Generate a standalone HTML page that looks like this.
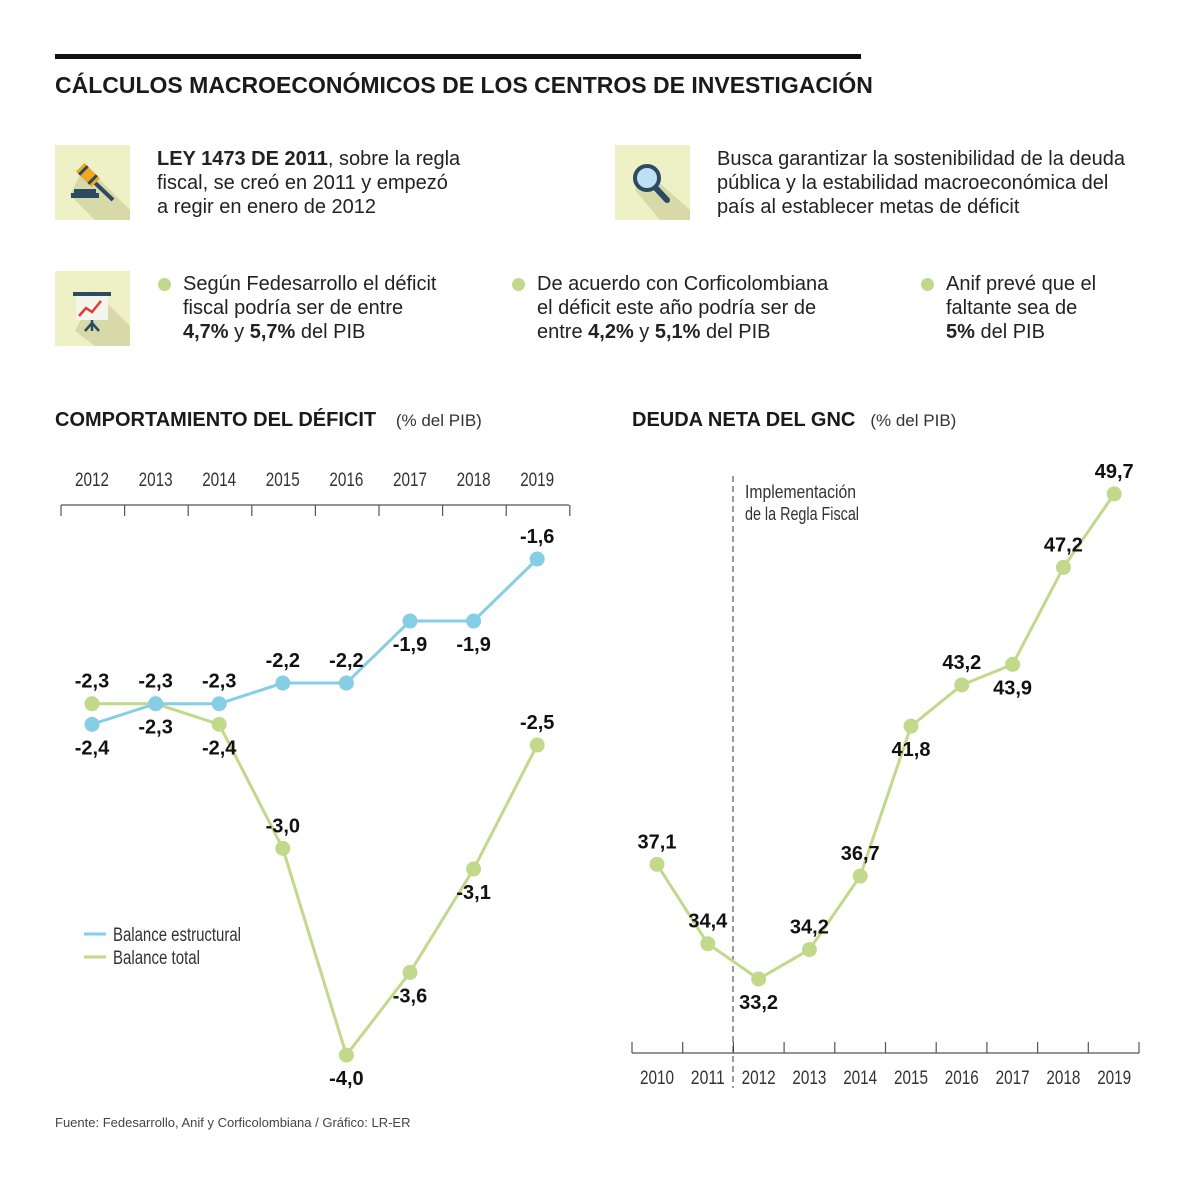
<!DOCTYPE html>
<html><head><meta charset="utf-8"><style>
body{margin:0;width:1200px;height:1187px;background:#fff;font-family:"Liberation Sans",sans-serif;color:#1a1a1a;position:relative;overflow:hidden}
.abs{position:absolute}
.txt{font-family:"Liberation Sans",sans-serif;font-size:20px;line-height:24px;color:#222}
.icon{position:absolute;width:75px;height:75px;background:#eef0c6;overflow:hidden}
.dot{display:inline-block;width:13px;height:13px;border-radius:50%;background:#c2d88a;position:absolute}
h2{margin:0;font-family:"Liberation Sans",sans-serif;font-weight:bold;font-size:20px;position:absolute}
.sub{font-weight:normal;font-size:17px;color:#333}
</style></head><body>
<div class="abs" style="left:55px;top:54px;width:806px;height:5px;background:#111"></div>
<h2 style="left:55px;top:72px;font-size:23px">CÁLCULOS MACROECONÓMICOS DE LOS CENTROS DE INVESTIGACIÓN</h2>

<div class="icon" style="left:55px;top:145px">
<svg width="75" height="75"><polygon points="30,20 75,65 75,75 40,75 15,50" fill="#d8d9a8"/>
<rect x="16" y="48" width="28" height="5" fill="#2d4a63"/><rect x="19" y="44" width="22" height="4" fill="#2d4a63"/>
<line x1="36" y1="34" x2="58" y2="55" stroke="#2d4a63" stroke-width="4"/>
<g transform="rotate(45 33 30)"><rect x="22" y="24" width="22" height="12" fill="#f0a81e"/><rect x="25" y="24" width="3" height="12" fill="#2d4a63"/><rect x="38" y="24" width="3" height="12" fill="#2d4a63"/></g></svg></div>
<div class="abs txt" style="left:157px;top:147px"><b>LEY 1473 DE 2011</b>, sobre la regla<br>fiscal, se creó en 2011 y empezó<br>a regir en enero de 2012</div>

<div class="icon" style="left:615px;top:145px">
<svg width="75" height="75"><polygon points="30,25 75,65 75,75 45,75 20,45" fill="#d8d9a8"/>
<line x1="38" y1="40" x2="52" y2="55" stroke="#2d4a63" stroke-width="6" stroke-linecap="round"/>
<circle cx="32" cy="33" r="12" fill="#bfe0f2" stroke="#2d4a63" stroke-width="4"/></svg></div>
<div class="abs txt" style="left:717px;top:147px">Busca garantizar la sostenibilidad de la deuda<br>pública y la estabilidad macroeconómica del<br>país al establecer metas de déficit</div>

<div class="icon" style="left:55px;top:271px">
<svg width="75" height="75"><polygon points="40,20 75,55 75,75 40,75 20,60" fill="#d8d9a8"/>
<rect x="18" y="21" width="38" height="4" fill="#2d4a63"/><rect x="21" y="25" width="32" height="24" fill="#f5f5ee"/>
<polyline points="24,45 31,37 37,41 46,30" fill="none" stroke="#e2383a" stroke-width="2.5"/>
<line x1="37" y1="49" x2="37" y2="60" stroke="#2d4a63" stroke-width="2.5"/><line x1="37" y1="52" x2="30" y2="60" stroke="#2d4a63" stroke-width="2.5"/><line x1="37" y1="52" x2="44" y2="60" stroke="#2d4a63" stroke-width="2.5"/></svg></div>
<span class="dot" style="left:158px;top:278px"></span>
<div class="abs txt" style="left:183px;top:272px">Según Fedesarrollo el déficit<br>fiscal podría ser de entre<br><b>4,7%</b> y <b>5,7%</b> del PIB</div>
<span class="dot" style="left:512px;top:278px"></span>
<div class="abs txt" style="left:537px;top:272px">De acuerdo con Corficolombiana<br>el déficit este año podría ser de<br>entre <b>4,2%</b> y <b>5,1%</b> del PIB</div>
<span class="dot" style="left:921px;top:278px"></span>
<div class="abs txt" style="left:946px;top:272px">Anif prevé que el<br>faltante sea de<br><b>5%</b> del PIB</div>

<h2 style="left:55px;top:409px">COMPORTAMIENTO DEL DÉFICIT <span class="sub">&nbsp;&nbsp;&nbsp;(% del PIB)</span></h2>
<h2 style="left:632px;top:409px">DEUDA NETA DEL GNC <span class="sub">&nbsp;&nbsp;(% del PIB)</span></h2>

<svg class="abs" style="left:0;top:0" width="1200" height="1187" id="charts" font-family="Liberation Sans, sans-serif"></svg>
<div class="abs" style="left:55px;top:1115px;font-size:13px;color:#444">Fuente: Fedesarrollo, Anif y Corficolombiana / Gráfico: LR-ER</div>

<script>
const defYears=["2012","2013","2014","2015","2016","2017","2018","2019"];
const structural=[-2.4,-2.3,-2.3,-2.2,-2.2,-1.9,-1.9,-1.6];
const total=[-2.3,-2.3,-2.4,-3.0,-4.0,-3.6,-3.1,-2.5];
const structLabelPos=["below","below","above","above","above","below","below","above"];
const totalLabelPos=["above","above","below","above","below","below","below","above"];
const debtYears=["2010","2011","2012","2013","2014","2015","2016","2017","2018","2019"];
const debt=[37.1,34.4,33.2,34.2,36.7,41.8,43.2,43.9,47.2,49.7];
const debtLabelPos=["above","above","below","above","above","below","above","below","above","above"];

const NS="http://www.w3.org/2000/svg";
const svg=document.getElementById('charts');
function mk(tag,attrs,parent){const e=document.createElementNS(NS,tag);for(const k in attrs)e.setAttribute(k,attrs[k]);(parent||svg).appendChild(e);return e;}
const fmt=v=>v.toFixed(1).replace('.',',');
const GREEN="#c2d88a",BLUE="#86cde6";

const lx=i=>92+i*63.6;
const ly=v=>559+(-1.6-v)*206.7;
let ax=mk('line',{x1:61,y1:505,x2:569,y2:505,stroke:'#555','stroke-width':1.2});


for(let i=0;i<=defYears.length;i++){
  const t=mk('line',{x1:61+i*63.6,y1:505,x2:61+i*63.6,y2:516,stroke:'#555','stroke-width':1.2});
  
  
}
defYears.forEach((y,i)=>{
  const t=mk('text',{x:lx(i),y:486,'text-anchor':'middle','font-size':19,fill:'#333',textLength:34,lengthAdjust:'spacingAndGlyphs'});t.textContent=y;
  
  
});
function series(vals,xf,yf,color,posArr,name){
  const pl=mk('polyline',{points:vals.map((v,i)=>xf(i)+','+yf(v)).join(' '),fill:'none',stroke:color,'stroke-width':3});
  
  
  vals.forEach((v,i)=>{
    const c=mk('circle',{cx:xf(i),cy:yf(v),r:7.5,fill:color});
    
    
  });
}
function labels(vals,xf,yf,posArr,name){
  vals.forEach((v,i)=>{
    const yy=posArr[i]==='above'?yf(v)-16:yf(v)+30;
    const t=mk('text',{x:xf(i),y:yy,'text-anchor':'middle','font-size':20,'font-weight':'bold',fill:'#111'});
    t.textContent=fmt(v);
    
    
  });
}
series(total,lx,ly,GREEN,totalLabelPos,'total-balance');
series(structural,lx,ly,BLUE,structLabelPos,'structural-balance');
labels(total,lx,ly,totalLabelPos,'total-balance');
labels(structural,lx,ly,structLabelPos,'structural-balance');
[[BLUE,'Balance estructural',934,128],[GREEN,'Balance total',957,87]].forEach(([c,t,y,w])=>{
  const l=mk('line',{x1:84,y1:y,x2:106,y2:y,stroke:c,'stroke-width':3});
  
  
  const tx=mk('text',{x:113,y:y+7,'font-size':19,fill:'#333',textLength:w,lengthAdjust:'spacingAndGlyphs'});tx.textContent=t;
  
  
});

const rx=i=>657+i*50.8;
const ry=v=>979-(v-33.2)*29.4;
const ax2=mk('line',{x1:632,y1:1053,x2:1139,y2:1053,stroke:'#555','stroke-width':1.2});


for(let i=0;i<=debtYears.length;i++){
  const t=mk('line',{x1:632+i*50.7,y1:1042,x2:632+i*50.7,y2:1053,stroke:'#555','stroke-width':1.2});
  
  
}
debtYears.forEach((y,i)=>{
  const t=mk('text',{x:rx(i),y:1084,'text-anchor':'middle','font-size':19,fill:'#333',textLength:34,lengthAdjust:'spacingAndGlyphs'});t.textContent=y;
  
  
});
const dl=mk('line',{x1:733,y1:476,x2:733,y2:1088,stroke:'#333','stroke-width':1,'stroke-dasharray':'6,4'});


const an1=mk('text',{x:745,y:498,'font-size':18,fill:'#333',textLength:111,lengthAdjust:'spacingAndGlyphs'});
an1.textContent='Implementación';


const an2=mk('text',{x:745,y:520,'font-size':18,fill:'#333',textLength:114,lengthAdjust:'spacingAndGlyphs'});
an2.textContent='de la Regla Fiscal';


series(debt,rx,ry,GREEN,debtLabelPos,'net-debt');
labels(debt,rx,ry,debtLabelPos,'net-debt');
</script>
</body></html>
